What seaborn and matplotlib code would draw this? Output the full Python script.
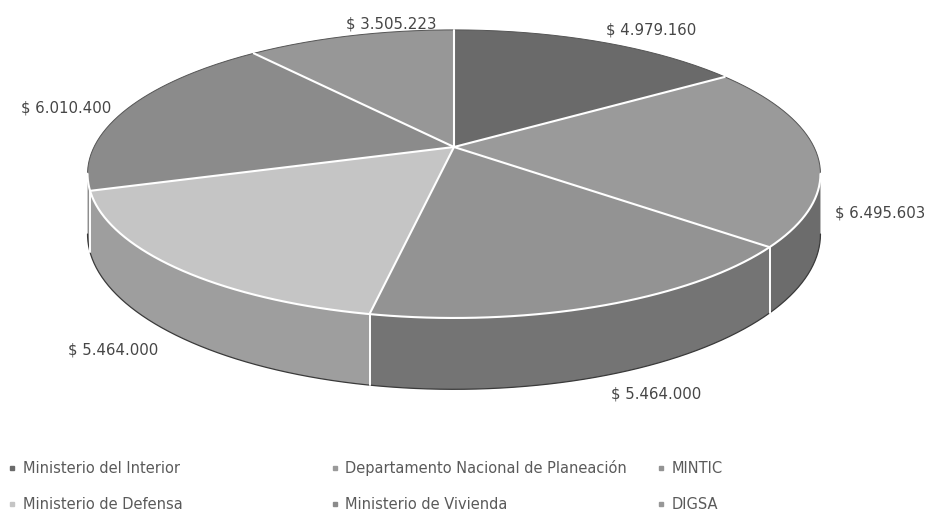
import numpy as np
import matplotlib
matplotlib.use("Agg")
import matplotlib.pyplot as plt
import seaborn as sns
from matplotlib.lines import Line2D

# data (clockwise from 12 o'clock)
entidades = ["Ministerio del Interior", "Departamento Nacional de Planeación", "MINTIC",
             "Ministerio de Defensa", "Ministerio de Vivienda", "DIGSA"]
valores = [4979160, 6495603, 5464000, 5464000, 6010400, 3505223]

# grey shades: top face / side face
color_top = ["#6a6a6a", "#9a9a9a", "#939393", "#c5c5c5", "#8b8b8b", "#979797"]
color_side = ["#5a5a5a", "#6c6c6c", "#747474", "#9e9e9e", "#8e8e8e", "#7a7a7a"]

sns.set_theme(style="white")
plt.rcParams['font.family'] = ['DejaVu Sans']

fig = plt.figure(figsize=(9.27, 5.21), dpi=100)
ax = fig.add_axes([0, 0, 1, 1])
ax.set_xlim(0, 927)
ax.set_ylim(521, 0)
ax.axis("off")

# simple perspective projection of a tilted disc
cx, cy, sx, sy, k, depth = 454, 147, 360, 139, 0.187, 58


def proj(theta, r=1.0, h=0.0):
    u = r * np.sin(theta)
    v = r * np.cos(theta)
    w = 1 + k * v
    return cx + sx * u / w, cy - sy * v / w + h * depth / w


frac = np.array(valores) / np.sum(valores)
bounds = np.concatenate([[0], np.cumsum(frac)]) * 2 * np.pi
th_a, th_b = np.arccos(-k), 2 * np.pi - np.arccos(-k)   # visible side range

# sides
for i in range(len(valores)):
    a, b = max(bounds[i], th_a), min(bounds[i + 1], th_b)
    if b <= a:
        continue
    t = np.linspace(a, b, 80)
    xt, yt = proj(t)
    xb, yb = proj(t, h=1)
    ax.fill(np.r_[xt, xb[::-1]], np.r_[yt, yb[::-1]], color=color_side[i], lw=0)
tb = np.linspace(th_a, th_b, 300)
ax.plot(*proj(tb, h=1), color="#3a3a3a", lw=0.9)
for bd in bounds:
    if th_a < bd < th_b:
        x0, y0 = proj(bd)
        x1, y1 = proj(bd, h=1)
        ax.plot([x0, x1], [y0, y1], color="white", lw=1.4)

# top face
for i in range(len(valores)):
    t = np.linspace(bounds[i], bounds[i + 1], 120)
    xt, yt = proj(t)
    ax.fill(np.r_[cx, xt], np.r_[cy, yt], color=color_top[i], lw=0)
t = np.linspace(0, 2 * np.pi, 400)
xt, yt = proj(t)
back = (t < th_a) | (t > th_b)
ax.plot(np.where(back, xt, np.nan), np.where(back, yt, np.nan), color="#555555", lw=0.7)
tf = np.linspace(th_a, th_b, 200)
ax.plot(*proj(tf), color="white", lw=1.5)
for bd in bounds[:-1]:
    x0, y0 = proj(bd)
    ax.plot([cx, x0], [cy, y0], color="white", lw=1.5)

# data labels
for i, val in enumerate(valores):
    mid = (bounds[i] + bounds[i + 1]) / 2
    u, v = np.sin(mid), np.cos(mid)
    lx, ly = proj(mid, r=1.05, h=1 if v < 0 else 0)
    ha = "left" if u > -0.4 else "right"
    va = "bottom" if v > 0.5 else ("top" if v < -0.5 else "center")
    txt = "$ " + f"{val:,}".replace(",", ".")
    ax.text(lx, ly, txt, ha=ha, va=va, fontsize=10.8, color="#464646")

# legend: three columns, two rows
cols = [[0, 3], [1, 4], [2, 5]]
anchors = [0.0, 0.348, 0.700]
for c, idx in enumerate(cols):
    handles = [Line2D([], [], marker="s", ls="", markersize=3.5,
                      color=color_top[j]) for j in idx]
    fig.legend(handles, [entidades[j] for j in idx], loc="lower left",
               bbox_to_anchor=(anchors[c], 0.0), frameon=False,
               prop={"family": "DejaVu Sans", "size": 10.5}, labelcolor="#5a5a5a",
               handlelength=0.5, handletextpad=0.45, labelspacing=1.45,
               borderaxespad=0.2)

fig.savefig("out.png", dpi=100)
